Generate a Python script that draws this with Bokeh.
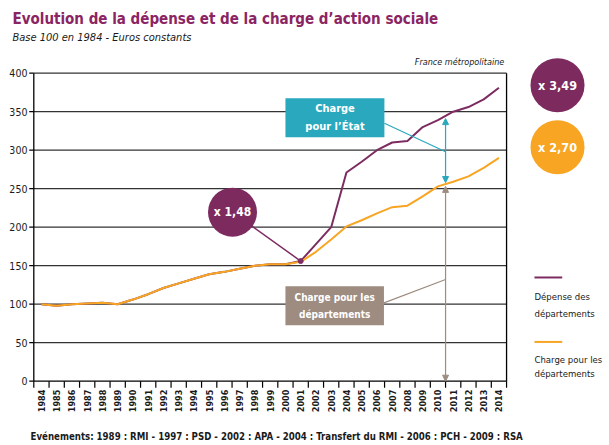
import math
from bokeh.plotting import figure
from bokeh.models import Label, Arrow, NormalHead, Range1d
from bokeh.core.properties import value
from bokeh.embed import file_html
from bokeh.resources import INLINE

# ---------------- data ----------------
years = list(range(1984, 2015))
depense = [100, 98, 100, 101, 102, 100, 106, 113, 121, 127, 133, 139, 142, 146,
           150, 152, 152, 156, 178, 200, 271, 285, 300, 310, 312, 330, 339, 350,
           356, 366, 381]
charge = [100, 98, 100, 101, 102, 100, 106, 113, 121, 127, 133, 139, 142, 146,
          150, 152, 152, 155, 168, 184, 201, 209, 218, 226, 228, 240, 253, 259,
          266, 277, 290]
y_ticks = [0, 50, 100, 150, 200, 250, 300, 350, 400]
year_labels = [str(y) for y in years]
mult_labels = ["x 1,48", "x 3,49", "x 2,70"]
etat_gap = [258, 341]      # charge pour l'Etat (between the two curves)
dep_gap = [0, 253]         # charge pour les departements

TITLE = "Evolution de la dépense et de la charge d\u2019action sociale"
SUBTITLE = "Base 100 en 1984 - Euros constants"
EVENTS = ("Evénements: 1989 : RMI - 1997 : PSD - 2002 : APA - 2004 : Transfert du RMI"
          " - 2006 : PCH - 2009 : RSA")

PURPLE = "#7c2c60"
CIRCLE_PURPLE = "#7d2a5e"
ORANGE = "#f8a523"
TEAL = "#2aa8bd"
BROWN = "#9d8c7f"
TITLE_COL = "#8b2463"
GRID = "#333333"
TXT = "#1a1a1a"
FONT = "DejaVu Sans Condensed"

n = len(years)
xs = list(range(n))

p = figure(width=609, height=445, output_backend="svg", toolbar_location=None,
           x_range=Range1d(-2.684, 37.25), y_range=Range1d(-83.5, 494.4),
           min_border=0, x_axis_location=None, y_axis_location=None)
p.outline_line_color = None
p.grid.visible = False
p.background_fill_color = "white"
p.border_fill_color = "white"

# ---------------- axes (drawn through the data scales) ----------------
gy = y_ticks[1:]
p.segment(x0=[-0.5] * len(gy), y0=gy, x1=[n - 0.5] * len(gy), y1=gy,
          line_color=GRID, line_width=1.3)
p.segment(x0=[-0.5, -0.5, n - 0.5], y0=[0, 0, 0], x1=[n - 0.5, -0.5, n - 0.5],
          y1=[0, y_ticks[-1], y_ticks[-1]], line_color="black", line_width=1.3)
# y ticks + labels
p.segment(x0=[-0.8] * len(y_ticks), y0=y_ticks, x1=[-0.5] * len(y_ticks), y1=y_ticks,
          line_color="black", line_width=1.2)
p.text(x=[-0.92] * len(y_ticks), y=y_ticks, text=[str(t) for t in y_ticks],
       text_font=value(FONT), text_font_size="10.5px", text_color=TXT,
       text_align="right", text_baseline="middle")
# x ticks (between categories) + labels
bounds = [k - 0.5 for k in range(n + 1)]
p.segment(x0=bounds, y0=[0] * len(bounds), x1=bounds, y1=[-8.5] * len(bounds),
          line_color="black", line_width=1.2)
p.text(x=xs, y=[-11] * n, text=year_labels, angle=math.pi / 2,
       text_font=value(FONT), text_font_size="9px", text_font_style="bold",
       text_color=TXT, text_align="right", text_baseline="middle")

# ---------------- series ----------------
p.line(xs, depense, line_color=PURPLE, line_width=2)
p.line(xs, charge, line_color=ORANGE, line_width=2)

# ---------------- arrows ----------------
ax = 26.5
p.add_layout(Arrow(start=NormalHead(size=6, fill_color=TEAL, line_color=TEAL),
                   end=NormalHead(size=6, fill_color=TEAL, line_color=TEAL),
                   x_start=ax, y_start=etat_gap[0], x_end=ax, y_end=etat_gap[1],
                   line_color=TEAL, line_width=1.2))
p.add_layout(Arrow(start=NormalHead(size=6, fill_color=BROWN, line_color=BROWN),
                   end=NormalHead(size=6, fill_color=BROWN, line_color=BROWN),
                   x_start=ax, y_start=dep_gap[0], x_end=ax, y_end=dep_gap[1],
                   line_color=BROWN, line_width=1.2))

# ---------------- callout boxes ----------------
p.segment(x0=[22.49], y0=[335], x1=[ax], y1=[298], line_color=TEAL, line_width=1.2)
p.quad(left=[16.0], right=[22.49], top=[367.5], bottom=[316.9],
       fill_color=TEAL, line_color=None)
p.segment(x0=[22.46], y0=[101.7], x1=[ax], y1=[132], line_color=BROWN, line_width=1.2)
p.quad(left=[16.0], right=[22.46], top=[123.4], bottom=[72.7],
       fill_color=BROWN, line_color=None)


def lab(x, y, text, size, color="white", style="bold", align="center"):
    p.add_layout(Label(x=x, y=y, text=text, text_font=FONT, text_font_size=size,
                       text_font_style=style, text_color=color, text_align=align,
                       text_baseline="middle"))


lab(19.25, 354.5, "Charge", "11px")
lab(19.25, 330.5, "pour l\u2019État", "11px")
lab(19.23, 109, "Charge pour les", "10px")
lab(19.23, 87, "départements", "10px")

# x 1,48 callout
p.segment(x0=[12.53], y0=[219.5], x1=[17], y1=[depense[17]], line_color=PURPLE,
          line_width=1.5)
p.scatter([17], [depense[17]], size=5, color=PURPLE)
p.scatter([12.53], [219.5], size=49, fill_color=CIRCLE_PURPLE, line_color=None)
lab(12.53, 219.5, mult_labels[0], "12px")

# right circles
p.scatter([33.84], [384.4], size=54, fill_color=CIRCLE_PURPLE, line_color=None)
lab(33.84, 384.4, mult_labels[1], "12.5px")
p.scatter([33.84], [303.9], size=54, fill_color=ORANGE, line_color=None)
lab(33.84, 303.9, mult_labels[2], "12.5px")

# legend
p.segment(x0=[32.33], y0=[134.7], x1=[34.15], y1=[134.7], line_color=PURPLE, line_width=2)
lab(32.33, 109.5, "Dépense des", "9.5px", color=TXT, style="normal", align="left")
lab(32.33, 88.3, "départements", "9.5px", color=TXT, style="normal", align="left")
p.segment(x0=[32.33], y0=[51], x1=[34.15], y1=[51], line_color=ORANGE, line_width=2)
lab(32.33, 28, "Charge pour les", "9.5px", color=TXT, style="normal", align="left")
lab(32.33, 9.5, "départements", "9.5px", color=TXT, style="normal", align="left")

# titles and notes
lab(30.35, 414, "France métropolitaine", "9px", color=TXT, style="italic",
    align="right")
lab(-1.897, 471.0, TITLE, "15px", color=TITLE_COL, style="bold", align="left")
lab(-1.897, 446.4, SUBTITLE, "11px", color=TXT, style="italic", align="left")
lab(-0.716, -71.8, EVENTS, "9.6px", color=TXT, style="bold", align="left")

open("out.html", "w").write(file_html(p, INLINE))
